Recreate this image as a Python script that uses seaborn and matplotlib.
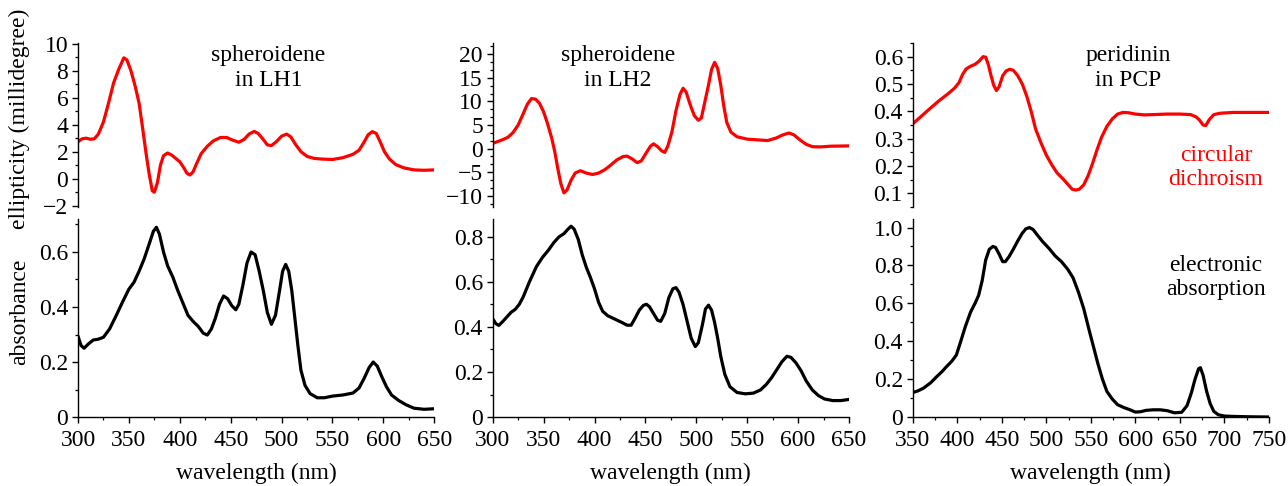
import numpy as np
import pandas as pd
import matplotlib
matplotlib.use("Agg")
import matplotlib.pyplot as plt
from matplotlib.ticker import MultipleLocator, FuncFormatter
import seaborn as sns

# ---------------- data ----------------
cd_lh1_wl = [300, 304, 308, 312, 316, 320, 325, 330, 335, 340, 345, 348, 352, 356, 360, 363, 367, 370,
             373, 375, 378, 381, 384, 388, 392, 396, 400, 404, 407, 410, 413, 417, 421, 427, 433, 440,
             446, 452, 458, 463, 468, 473, 477, 482, 486, 490, 495, 500, 505, 509, 514, 519, 525, 532,
             540, 550, 560, 570, 576, 581, 585, 589, 593, 597, 601, 606, 612, 620, 630, 640, 650]
cd_lh1_val = [2.73, 2.95, 3.0, 2.92, 2.95, 3.3, 4.2, 5.6, 7.1, 8.1, 8.95, 8.8, 8.0, 6.9, 5.6, 4.0, 1.8, 0.3,
              -0.9, -1.0, -0.3, 1.0, 1.7, 1.9, 1.75, 1.5, 1.25, 0.8, 0.4, 0.27, 0.5, 1.2, 1.85, 2.4, 2.8, 3.05,
              3.05, 2.85, 2.7, 2.9, 3.3, 3.5, 3.35, 2.9, 2.5, 2.45, 2.75, 3.15, 3.3, 3.1, 2.5, 2.0, 1.65, 1.5,
              1.45, 1.42, 1.55, 1.8, 2.1, 2.7, 3.25, 3.48, 3.35, 2.7, 2.0, 1.45, 1.05, 0.8, 0.65, 0.62, 0.65]

abs_lh1_wl = [300, 303, 306, 310, 315, 320, 325, 331, 337, 344, 350, 355, 360, 365, 370, 374, 377, 380,
              384, 388, 393, 398, 403, 408, 413, 418, 423, 427, 431, 435, 439, 443, 447, 451, 455, 458,
              462, 466, 470, 474, 478, 482, 486, 490, 494, 498, 501, 504, 507, 510, 513, 516, 519, 523,
              528, 535, 542, 550, 560, 570, 576, 581, 586, 590, 594, 598, 603, 608, 615, 622, 630, 640, 650]
abs_lh1_val = [0.294, 0.26, 0.25, 0.265, 0.28, 0.283, 0.29, 0.32, 0.365, 0.42, 0.465, 0.49, 0.53, 0.575,
               0.63, 0.675, 0.69, 0.665, 0.6, 0.55, 0.51, 0.46, 0.415, 0.37, 0.348, 0.33, 0.305, 0.298,
               0.32, 0.36, 0.41, 0.44, 0.43, 0.405, 0.39, 0.41, 0.48, 0.56, 0.6, 0.59, 0.53, 0.46, 0.38,
               0.337, 0.37, 0.46, 0.53, 0.555, 0.53, 0.46, 0.36, 0.26, 0.17, 0.115, 0.085, 0.07, 0.07,
               0.076, 0.08, 0.087, 0.105, 0.14, 0.18, 0.2, 0.185, 0.15, 0.11, 0.08, 0.06, 0.045, 0.032,
               0.028, 0.03]

cd_lh2_wl = [300, 305, 310, 315, 320, 325, 330, 334, 338, 342, 346, 350, 354, 358, 361, 364, 367, 370,
             373, 377, 381, 386, 392, 398, 404, 410, 416, 422, 428, 432, 437, 442, 446, 450, 455, 458,
             462, 466, 469, 472, 476, 480, 484, 487, 490, 494, 498, 502, 505, 508, 512, 515, 518, 521,
             524, 527, 530, 534, 540, 550, 560, 570, 578, 585, 591, 596, 602, 608, 614, 622, 632, 645, 650]
cd_lh2_val = [1.1, 1.5, 1.9, 2.4, 3.4, 5.0, 7.4, 9.4, 10.6, 10.5, 9.6, 7.8, 5.2, 2.2, -0.7, -4.3, -7.5, -9.4,
              -8.8, -6.7, -5.2, -4.7, -5.2, -5.5, -5.2, -4.5, -3.5, -2.4, -1.7, -1.6, -2.2, -3.0, -2.6, -1.2,
              0.5, 1.0, 0.4, -0.5, -0.8, 0.5, 3.5, 8.0, 11.5, 12.8, 12.0, 9.3, 7.0, 6.0, 6.5, 9.5, 13.5, 16.8,
              18.3, 17.0, 13.5, 9.0, 5.5, 3.5, 2.5, 2.0, 1.85, 1.7, 2.2, 2.9, 3.3, 2.9, 1.8, 0.9, 0.4, 0.35,
              0.5, 0.55, 0.57]

abs_lh2_wl = [300, 303, 306, 310, 314, 318, 322, 326, 330, 336, 343, 349, 355, 360, 365, 370, 374, 377,
              380, 384, 388, 392, 396, 400, 404, 408, 413, 420, 427, 432, 436, 440, 444, 448, 451, 454,
              458, 462, 465, 469, 473, 477, 480, 483, 487, 491, 495, 499, 502, 506, 509, 512, 515, 518,
              521, 524, 528, 533, 540, 548, 556, 563, 569, 574, 579, 584, 589, 593, 598, 603, 608, 614,
              620, 626, 634, 642, 650]
abs_lh2_val = [0.437, 0.415, 0.407, 0.425, 0.445, 0.465, 0.478, 0.5, 0.534, 0.6, 0.669, 0.71, 0.743, 0.775,
               0.8, 0.815, 0.835, 0.848, 0.835, 0.79, 0.72, 0.665, 0.62, 0.57, 0.51, 0.47, 0.45, 0.435,
               0.42, 0.408, 0.408, 0.44, 0.475, 0.496, 0.501, 0.49, 0.46, 0.43, 0.425, 0.46, 0.53, 0.57,
               0.575, 0.555, 0.5, 0.425, 0.35, 0.313, 0.33, 0.41, 0.48, 0.497, 0.475, 0.42, 0.35, 0.27,
               0.19, 0.135, 0.109, 0.103, 0.106, 0.12, 0.146, 0.175, 0.21, 0.245, 0.27, 0.265, 0.24,
               0.205, 0.16, 0.12, 0.095, 0.08, 0.073, 0.073, 0.078]

cd_pcp_wl = [350, 360, 370, 380, 390, 397, 402, 406, 410, 415, 420, 425, 429, 432, 435, 438, 441, 444,
             447, 451, 455, 459, 463, 468, 473, 478, 483, 488, 494, 500, 506, 512, 519, 525, 529, 533,
             537, 542, 547, 552, 557, 562, 568, 574, 580, 586, 592, 600, 610, 620, 635, 650, 662, 668,
             672, 676, 679, 683, 688, 695, 710, 730, 750]
cd_pcp_val = [0.354, 0.383, 0.412, 0.44, 0.465, 0.485, 0.505, 0.535, 0.555, 0.565, 0.572, 0.585, 0.6,
              0.598, 0.57, 0.53, 0.495, 0.476, 0.49, 0.53, 0.548, 0.554, 0.55, 0.53, 0.5, 0.456, 0.4,
              0.335, 0.285, 0.24, 0.205, 0.175, 0.152, 0.13, 0.115, 0.112, 0.115, 0.131, 0.165, 0.21,
              0.26, 0.305, 0.345, 0.372, 0.39, 0.396, 0.395, 0.39, 0.387, 0.388, 0.39, 0.39, 0.388,
              0.38, 0.368, 0.35, 0.348, 0.37, 0.388, 0.393, 0.396, 0.396, 0.396]

abs_pcp_wl = [350, 356, 362, 370, 377, 383, 388, 394, 399, 404, 409, 415, 420, 424, 428, 432, 436, 440,
              443, 447, 451, 454, 458, 463, 468, 473, 477, 481, 485, 490, 496, 503, 510, 517, 524, 530,
              536, 542, 548, 553, 558, 563, 568, 574, 580, 587, 594, 600, 606, 612, 620, 628, 636, 644,
              652, 658, 663, 667, 671, 673, 676, 680, 684, 688, 693, 700, 710, 730, 750]
abs_pcp_val = [0.129, 0.138, 0.152, 0.18, 0.213, 0.24, 0.266, 0.295, 0.327, 0.4, 0.476, 0.554, 0.6, 0.642,
               0.72, 0.83, 0.885, 0.9, 0.895, 0.86, 0.82, 0.82, 0.845, 0.886, 0.93, 0.97, 0.993, 1.0,
               0.99, 0.96, 0.925, 0.89, 0.85, 0.82, 0.78, 0.735, 0.66, 0.572, 0.46, 0.37, 0.28, 0.2,
               0.135, 0.095, 0.065, 0.05, 0.038, 0.026, 0.028, 0.035, 0.038, 0.038, 0.033, 0.022, 0.025,
               0.06, 0.13, 0.2, 0.255, 0.26, 0.22, 0.135, 0.07, 0.03, 0.012, 0.005, 0.003, 0.001, 0.0]

titles = ["spheroidene\nin LH1", "spheroidene\nin LH2", "peridinin\nin PCP"]
xlabel = "wavelength (nm)"
cd_ylabel = "ellipticity (millidegree)"
abs_ylabel = "absorbance"

# ---------------- style ----------------
sns.set_theme(style="ticks")
plt.rcParams["font.family"] = ["Liberation Serif", "DejaVu Serif"]
plt.rcParams["axes.unicode_minus"] = True
FS = 17

fig = plt.figure(figsize=(12.88, 4.86), dpi=100)

lefts = [78 / 1288, 492.7 / 1288, 912.7 / 1288]
width = 356.3 / 1288
top_bottom, top_h = 1 - 207 / 486, (207 - 43) / 486
bot_bottom, bot_h = 1 - 417 / 486, (417 - 219) / 486

cd_data = [(cd_lh1_wl, cd_lh1_val), (cd_lh2_wl, cd_lh2_val), (cd_pcp_wl, cd_pcp_val)]
abs_data = [(abs_lh1_wl, abs_lh1_val), (abs_lh2_wl, abs_lh2_val), (abs_pcp_wl, abs_pcp_val)]
xlims = [(300, 650), (300, 650), (350, 750)]
cd_ylims = [(-2.1, 10.05), (-12.4, 22.4), (0.05, 0.65)]
cd_major = [2, 5, 0.1]
cd_minor = [1, 5 / 3, 0.05]
abs_ylims = [(0, 0.72), (0, 0.88), (0, 1.045)]
title_x = [0.534, 0.352, 0.605]


def style_axis(ax):
    ax.tick_params(which="major", direction="out", length=4, width=1, labelsize=FS, color="black",
                   labelcolor="black", pad=3)
    ax.tick_params(which="minor", direction="out", length=2.5, width=0.9, color="black")
    ax.tick_params(axis="x", which="major", pad=5)
    for s in ax.spines.values():
        s.set_linewidth(1)
        s.set_color("black")


for i in range(3):
    axt = fig.add_axes([lefts[i], top_bottom, width, top_h])
    axb = fig.add_axes([lefts[i], bot_bottom, width, bot_h])

    wl, val = cd_data[i]
    sns.lineplot(x=wl, y=val, ax=axt, color="#ff0000", linewidth=2.3, sort=False, estimator=None,
                 solid_joinstyle="round", solid_capstyle="round")
    wl, val = abs_data[i]
    sns.lineplot(x=wl, y=val, ax=axb, color="black", linewidth=2.3, sort=False, estimator=None,
                 solid_joinstyle="round", solid_capstyle="round")

    for ax in (axt, axb):
        ax.set_xlim(*xlims[i])
        ax.set_facecolor("none")
        style_axis(ax)
        ax.spines["top"].set_visible(False)
        ax.spines["right"].set_visible(False)

    # top (CD) panel: only left axis
    axt.set_ylim(*cd_ylims[i])
    axt.spines["bottom"].set_visible(False)
    axt.set_xticks([])
    axt.tick_params(axis="x", which="both", bottom=False, labelbottom=False)
    axt.yaxis.set_major_locator(MultipleLocator(cd_major[i]))
    axt.yaxis.set_minor_locator(MultipleLocator(cd_minor[i]))
    axt.text(title_x[i], 0.985, titles[i], transform=axt.transAxes, ha="center", va="top",
             fontsize=FS, color="black", linespacing=1.2)

    # bottom (absorption) panel
    axb.set_ylim(*abs_ylims[i])
    axb.yaxis.set_major_locator(MultipleLocator(0.2))
    axb.yaxis.set_minor_locator(MultipleLocator(0.1))
    axb.xaxis.set_major_locator(MultipleLocator(50))
    axb.xaxis.set_minor_locator(MultipleLocator(25))
    axb.yaxis.set_major_formatter(FuncFormatter(lambda v, p: "0" if abs(v) < 1e-9 else f"{v:.1f}"))
    axb.set_xlabel(xlabel, fontsize=FS, color="black", labelpad=9)

    if i == 0:
        axt.set_ylabel(cd_ylabel, fontsize=FS, color="black")
        axt.yaxis.set_label_coords(-0.135, 0.54)
        axb.set_ylabel(abs_ylabel, fontsize=FS, color="black")
        axb.yaxis.set_label_coords(-0.135, 0.53)
    if i == 2:
        axt.text(0.851, 0.38, "circular\ndichroism", transform=axt.transAxes, ha="center", va="top",
                 fontsize=FS, color="#ff0000", linespacing=1.2)
        axb.text(0.851, 0.82, "electronic\nabsorption", transform=axb.transAxes, ha="center", va="top",
                 fontsize=FS, color="black", linespacing=1.2)
        axt.yaxis.set_major_formatter(FuncFormatter(lambda v, p: f"{v:.1f}"))

fig.savefig("out.png", dpi=100, facecolor="white")
